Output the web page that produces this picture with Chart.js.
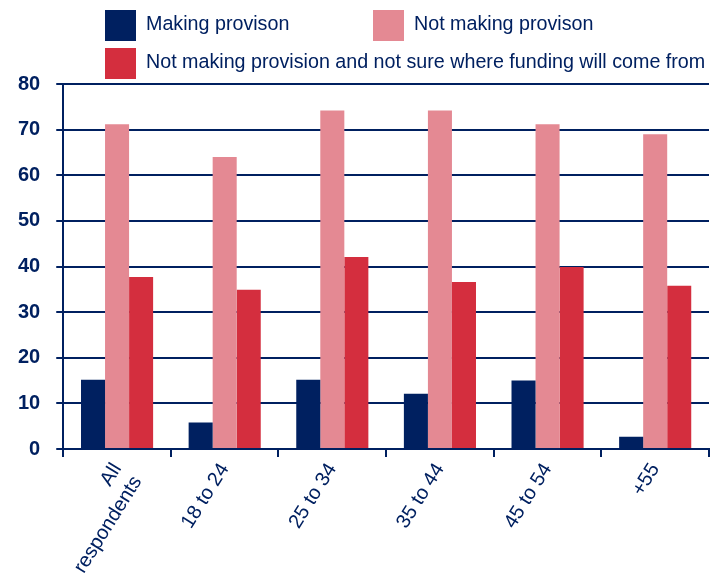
<!DOCTYPE html>
<html>
<head>
<meta charset="utf-8">
<script src="https://cdn.jsdelivr.net/npm/chart.js@4"></script>
<style>
  html, body { margin: 0; padding: 0; background: #fff; }
  #wrap { width: 720px; height: 580px; }
</style>
</head>
<body>
<div id="wrap"><canvas id="c" width="720" height="580"></canvas></div>
<script>
var categories = [["All", "respondents"], "18 to 24", "25 to 34", "35 to 44", "45 to 54", "+55"];
var makingProvision = [15.2, 5.8, 15.2, 12.1, 15.0, 2.7];
var notMakingProvision = [71.2, 64.0, 74.2, 74.2, 71.2, 69.0];
var notSureFunding = [37.7, 34.9, 42.1, 36.6, 39.9, 35.8];
var seriesNames = ["Making provison", "Not making provison", "Not making provision and not sure where funding will come from"];

var navy = "#002060";
var font = "'Liberation Sans', Arial, Helvetica, sans-serif";

// legend drawn by hand: two columns on first row, long label on second
var legendBoxes = [[105, 10], [373, 10], [105, 48]];
var legendPlugin = {
  id: "topLegend",
  afterDraw: function (chart) {
    var ctx = chart.ctx;
    ctx.save();
    ctx.font = "19.7px " + font;
    ctx.textBaseline = "alphabetic";
    ctx.textAlign = "left";
    chart.data.datasets.forEach(function (ds, i) {
      var p = legendBoxes[i];
      ctx.fillStyle = ds.backgroundColor;
      ctx.fillRect(p[0], p[1], 31, 31);
      ctx.fillStyle = navy;
      ctx.fillText(ds.label, p[0] + 41, p[1] + 20);
    });
    ctx.restore();
  }
};

new Chart(document.getElementById("c").getContext("2d"), {
  type: "bar",
  data: {
    labels: categories,
    datasets: [
      { label: seriesNames[0], data: makingProvision, backgroundColor: "#002060" },
      { label: seriesNames[1], data: notMakingProvision, backgroundColor: "#e48993" },
      { label: seriesNames[2], data: notSureFunding, backgroundColor: "#d42e3e" }
    ]
  },
  options: {
    responsive: false,
    animation: false,
    devicePixelRatio: 1,
    layout: { padding: { top: 84, left: 2, right: 11, bottom: 0 } },
    datasets: { bar: { barPercentage: 1, categoryPercentage: 0.67 } },
    plugins: { legend: { display: false }, tooltip: { enabled: false } },
    scales: {
      x: {
        afterFit: function (s) { s.height = 131; s.paddingLeft = 0; s.paddingRight = 0; },
        border: { color: navy, width: 2 },
        grid: {
          drawOnChartArea: false,
          tickLength: 8,
          lineWidth: 2,
          color: function (c) { return c.index === categories.length ? "transparent" : navy; }
        },
        ticks: {
          color: navy,
          font: { family: font, size: 20 },
          minRotation: 58,
          maxRotation: 58,
          autoSkip: false,
          padding: 2
        }
      },
      y: {
        min: 0,
        max: 80,
        border: { color: navy, width: 2 },
        grid: { color: navy, lineWidth: 2, tickLength: 7 },
        ticks: {
          stepSize: 10,
          color: navy,
          padding: 16,
          font: { family: font, size: 20, weight: "bold" }
        }
      }
    }
  },
  plugins: [legendPlugin]
});
</script>
</body>
</html>
